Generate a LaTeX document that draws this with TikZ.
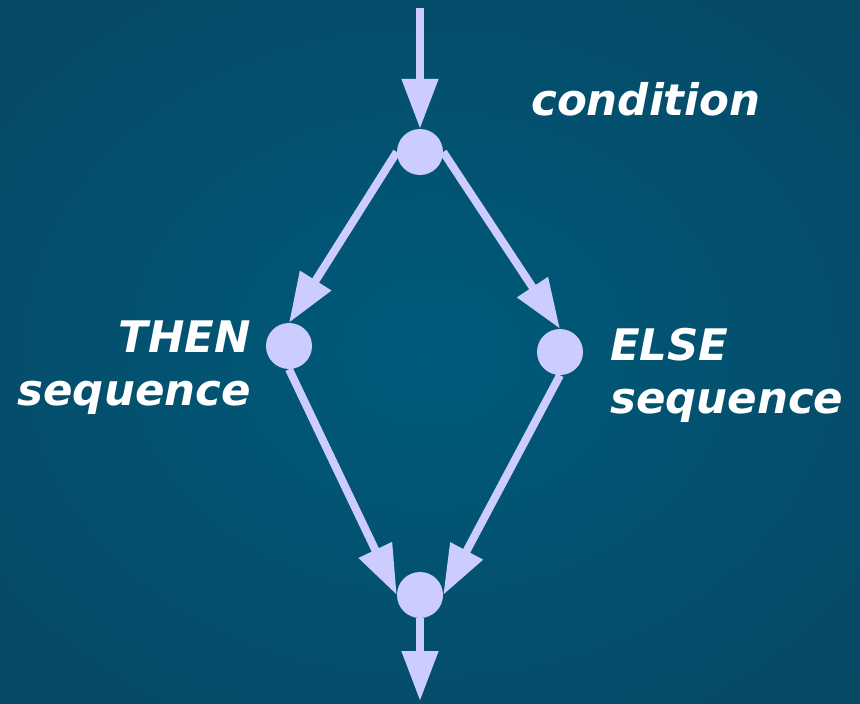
\documentclass[tikz,border=0pt]{standalone}
\usepackage{fontspec}
\setmainfont{DejaVu Sans}
\usetikzlibrary{arrows.meta}
\definecolor{lav}{RGB}{204,204,255}
\definecolor{bgc}{RGB}{0,90,122}
\definecolor{bgd}{RGB}{6,72,100}
\tikzset{
  dot/.style={circle, fill=lav, draw=none, minimum size=46pt, inner sep=0pt},
  flow/.style={draw=lav, line width=8pt, -{Triangle[length=50pt,width=35pt]}},
  lbl/.style={text=white, font=\fontsize{43.5}{53}\selectfont\bfseries\itshape, inner sep=0pt, align=#1},
  lbl/.default=left
}
\begin{document}
\begin{tikzpicture}[x=1pt,y=-1pt]
\useasboundingbox (0,0) rectangle (860,704);
\shade[inner color=bgc, outer color=bgd] (-200,-150) rectangle (1060,854);
\node[dot] (top) at (420,152) {};
\node[dot] (then) at (289,346) {};
\node[dot] (else) at (560,352) {};
\node[dot] (bot) at (420,595) {};
\coordinate (start) at (420,8);
\coordinate (end) at (420,701);
\draw[flow] (start) -- (top.north);
\draw[flow] (top.west) -- (then.north);
\draw[flow] (top.east) -- (else.north);
\draw[flow] (then.south) -- (bot.west);
\draw[flow] (else.south) -- (bot.east);
\draw[flow] (bot.south) -- (end);
\node[lbl, anchor=west] (cond) at (531,99) {condition};
\node[lbl=right, anchor=east] (thenl) at (251,368) {THEN\\sequence};
\node[lbl=left, anchor=west] (elsel) at (610,375) {ELSE\\sequence};
\end{tikzpicture}
\end{document}
